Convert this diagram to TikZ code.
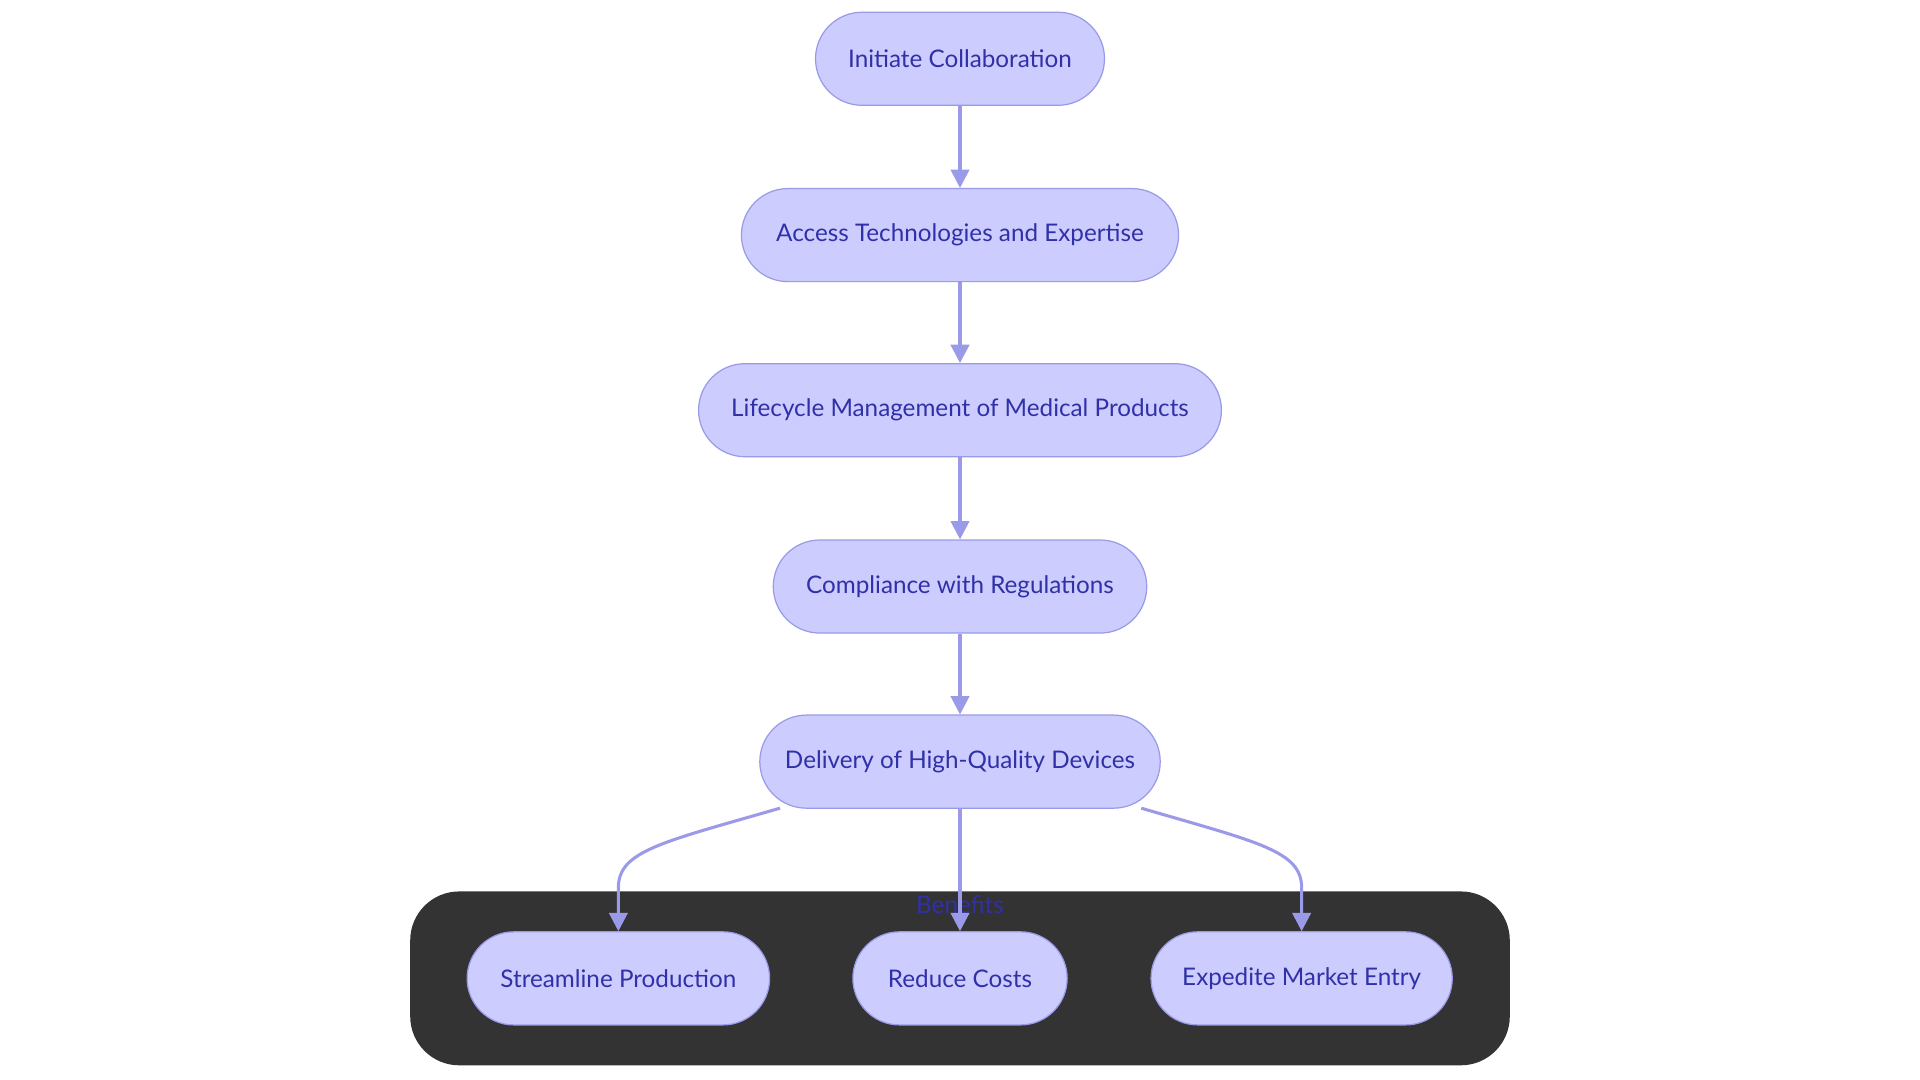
\documentclass[tikz,border=0pt]{standalone}
\usepackage{fontspec}
\setmainfont{Lato}
\usetikzlibrary{arrows.meta}
\definecolor{nfill}{HTML}{CCCCFF}
\definecolor{nstroke}{HTML}{9A9AE8}
\definecolor{ntext}{HTML}{3030A8}
\definecolor{edge}{HTML}{9A9AE8}
\tikzset{
  box/.style={draw=nstroke, fill=nfill, rounded corners=38pt, minimum height=76pt, inner sep=0pt, text=ntext, font=\fontsize{19.8}{23}\selectfont, line width=1pt},
  conn/.style={draw=edge, line width=2.5pt, -{Triangle[length=15pt,width=15pt]}}
}
\begin{document}
\begin{tikzpicture}[x=1pt,y=-1pt]
\useasboundingbox (0,0) rectangle (1568,882);
\fill[fill=white] (0,0) rectangle (1568,882);
\fill[fill=black!80, rounded corners=40pt] (335,728) rectangle (1233,870);
\node[text=ntext, font=\fontsize{19.8}{23}\selectfont] (ben) at (784,739) {Benefits};
\node[box, minimum width=236pt] (a) at (784,48) {Initiate Collaboration};
\node[box, minimum width=357pt] (b) at (784,192) {Access Technologies and Expertise};
\node[box, minimum width=427pt] (c) at (784,335) {Lifecycle Management of Medical Products};
\node[box, minimum width=305pt] (d) at (784,479) {Compliance with Regulations};
\node[box, minimum width=327pt] (e) at (784,622) {Delivery of High-Quality Devices};
\node[box, minimum width=247pt] (f) at (505,799) {Streamline Production};
\node[box, minimum width=175pt] (g) at (784,799) {Reduce Costs};
\node[box, minimum width=246pt] (h) at (1063,799) {Expedite Market Entry};
\coordinate (el) at (637,660);
\coordinate (er) at (932,660);
\draw[conn] (a) -- (b);
\draw[conn] (b) -- (c);
\draw[conn] (c) -- (d);
\draw[conn] (d) -- (e);
\draw[conn] (e) -- (g);
\draw[conn] (el) .. controls (540,688) and (505,695) .. (505,725) -- (f.north);
\draw[conn] (er) .. controls (1028,688) and (1063,695) .. (1063,725) -- (h.north);
\end{tikzpicture}
\end{document}
